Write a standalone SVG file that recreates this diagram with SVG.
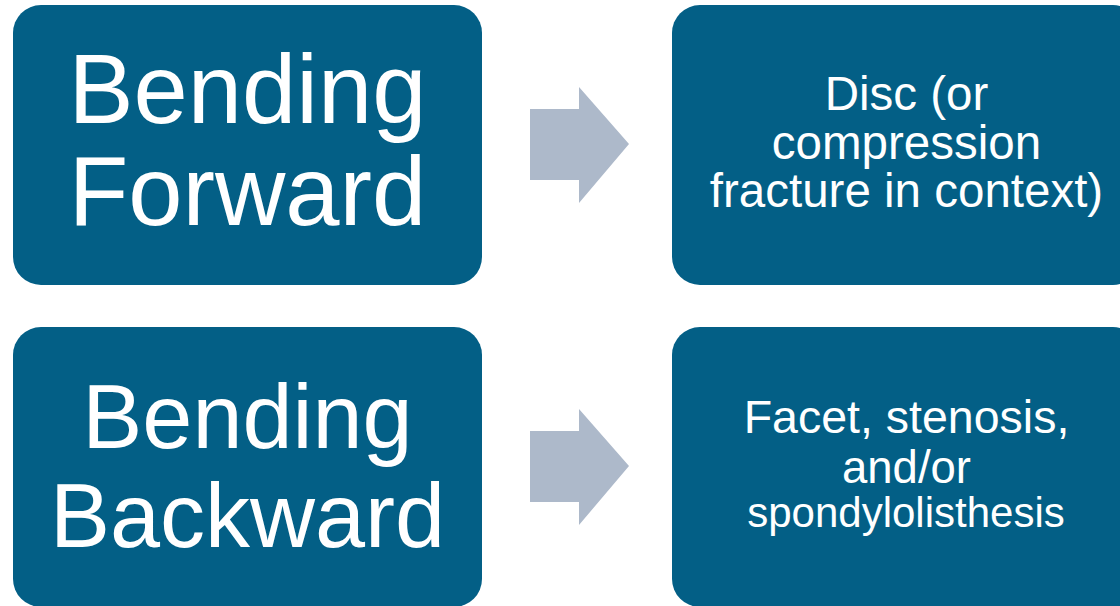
<svg xmlns="http://www.w3.org/2000/svg" width="1120" height="606" viewBox="0 0 1120 606">
<style>
.box{fill:#035f86}
.arrow{fill:#adb9ca}
.t{fill:#ffffff;font-family:"Liberation Sans",Arial,sans-serif;text-anchor:middle}
</style>
<rect width="1120" height="606" fill="#ffffff"/>
<g id="node-bending-forward">
<rect class="box" x="13" y="5" width="469" height="280" rx="28" ry="28"/>
<text class="t" font-size="97.5"><tspan x="247.5" y="123">Bending</tspan><tspan x="247.5" y="225">Forward</tspan></text>
</g>
<g id="node-disc">
<rect class="box" x="672" y="5" width="469" height="280" rx="28" ry="28"/>
<text class="t" font-size="47.5"><tspan x="906.5" y="110">Disc (or</tspan><tspan x="906.5" y="159">compression</tspan><tspan x="906.5" y="207">fracture in context)</tspan></text>
</g>
<g id="node-bending-backward">
<rect class="box" x="13" y="327" width="469" height="280" rx="28" ry="28"/>
<text class="t" font-size="90"><tspan x="247.5" y="448">Bending</tspan><tspan x="247.5" y="547">Backward</tspan></text>
</g>
<g id="node-facet">
<rect class="box" x="672" y="327" width="469" height="280" rx="28" ry="28"/>
<text class="t"><tspan x="906.5" y="433" font-size="46.5">Facet, stenosis,</tspan><tspan x="906.5" y="483" font-size="45.5">and/or</tspan><tspan x="906" y="527" font-size="42">spondylolisthesis</tspan></text>
</g>
<g id="connectors">
<polygon class="arrow" points="530,109 579,109 579,87 629,144 579,203 579,180 530,180"/>
<polygon class="arrow" points="530,431 579,431 579,409 629,466 579,525 579,502 530,502"/>
</g>
</svg>
